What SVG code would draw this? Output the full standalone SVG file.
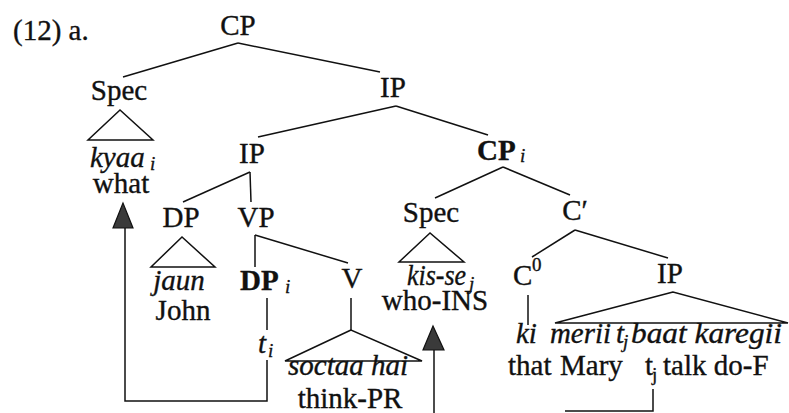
<svg xmlns="http://www.w3.org/2000/svg" width="789" height="413" viewBox="0 0 789 413" font-family="'Liberation Serif', 'Times New Roman', serif">
  <style>
    text { font-family: 'Liberation Serif', 'Times New Roman', serif; font-size: 29px; fill: #111; stroke: #111; stroke-width: 0.35; }
    .it { font-style: italic; }
    .b { font-weight: bold; }
    .sub { font-size: 19px; font-style: italic; }
    .sup { font-size: 19px; }
    .mid { text-anchor: middle; }
    .edge { stroke: #111; stroke-width: 1.5; fill: none; }
    .tri { stroke: #111; stroke-width: 1.5; fill: none; stroke-linejoin: miter; }
    .head { fill: #3a3a3a; stroke: #111; stroke-width: 1.2; }
  </style>
  <rect width="789" height="413" fill="#ffffff"/>

  <text id="example-label" x="13" y="40">(12) a.</text>

  <!-- tree branches, triangles and movement paths -->
  <g id="connectors">
    <line class="edge" x1="238" y1="43" x2="123" y2="77"/>
    <line class="edge" x1="238" y1="43" x2="380" y2="72"/>
    <line class="edge" x1="396" y1="106" x2="258" y2="137"/>
    <line class="edge" x1="396" y1="106" x2="488" y2="135"/>
    <polygon class="tri" points="120,110 88,140 153,140"/>
    <line class="edge" x1="250" y1="172" x2="183" y2="202"/>
    <line class="edge" x1="250" y1="172" x2="251" y2="202"/>
    <polygon class="tri" points="182,237 151,267 215,267"/>
    <line class="edge" x1="255" y1="235" x2="255" y2="267"/>
    <line class="edge" x1="255" y1="235" x2="348" y2="263"/>
    <line class="edge" x1="267" y1="298" x2="267" y2="330"/>
    <path class="edge" d="M267,360 V401 H125 V228"/>
    <polygon class="head" points="123,203 113,228 133,228"/>
    <line class="edge" x1="351" y1="298" x2="351" y2="330"/>
    <polygon class="tri" points="351,330 285,361 422,361"/>
    <line class="edge" x1="503" y1="167" x2="435" y2="198"/>
    <line class="edge" x1="503" y1="167" x2="570" y2="195"/>
    <polygon class="tri" points="430,233 399,262 464,262"/>
    <line class="edge" x1="434" y1="350" x2="434" y2="413"/>
    <polygon class="head" points="433,326 423,350 444,350"/>
    <line class="edge" x1="575" y1="230" x2="532" y2="257"/>
    <line class="edge" x1="575" y1="230" x2="668" y2="258"/>
    <line class="edge" x1="528" y1="295" x2="528" y2="325"/>
    <polygon class="tri" points="673,292 555,323 788,323"/>
    <path class="edge" d="M653,389 V411 H565"/>
  </g>

  <g id="cp-root"><text class="mid" x="238" y="35">CP</text></g>
  <g id="spec-matrix"><text class="mid" x="119" y="100">Spec</text></g>
  <g id="ip-top"><text class="mid" x="393" y="97">IP</text></g>
  <g id="kyaa">
    <text class="it" x="90" y="167">kyaa</text>
    <text class="sub" x="150" y="170">i</text>
    <text class="mid" x="121" y="193">what</text>
  </g>
  <g id="ip-inner"><text class="mid" x="252" y="163">IP</text></g>
  <g id="dp-subject"><text class="mid" x="181" y="227">DP</text></g>
  <g id="vp"><text class="mid" x="256" y="227">VP</text></g>
  <g id="jaun">
    <text class="it mid" x="179" y="290">jaun</text>
    <text class="mid" x="183" y="320">John</text>
  </g>
  <g id="dp-object">
    <text class="b" x="240" y="290">DP</text>
    <text class="sub" x="285" y="293">i</text>
  </g>
  <g id="trace-i">
    <text class="it" x="258" y="353">t</text>
    <text class="sub" x="268" y="357">i</text>
  </g>
  <g id="v"><text class="mid" x="352" y="288">V</text></g>
  <g id="soctaa">
    <text class="it mid" x="348" y="375">soctaa hai</text>
    <text class="mid" x="350" y="408">think-PR</text>
  </g>
  <g id="cp-embedded">
    <text class="b" x="477" y="160">CP</text>
    <text class="sub" x="520" y="162">i</text>
  </g>
  <g id="spec-embedded"><text class="mid" x="431" y="222">Spec</text></g>
  <g id="c-bar"><text class="mid" x="575" y="220">C′</text></g>
  <g id="kis-se">
    <text class="it" x="407" y="285" textLength="59" lengthAdjust="spacingAndGlyphs">kis-se</text>
    <text class="sub" x="469" y="290">j</text>
    <text class="mid" x="435" y="310">who-INS</text>
  </g>
  <g id="c-zero">
    <text x="513" y="285">C</text>
    <text class="sup" x="532" y="271">0</text>
  </g>
  <g id="ip-embedded"><text class="mid" x="670" y="283">IP</text></g>
  <g id="ki">
    <text class="it" x="516" y="343">ki</text>
    <text x="508" y="375">that</text>
  </g>
  <g id="ip-content">
    <text class="it" x="550" y="343" textLength="61" lengthAdjust="spacingAndGlyphs">merii</text>
    <text class="it" x="616" y="343">t</text>
    <text class="sub" x="623" y="348">j</text>
    <text class="it" x="631" y="343" textLength="151" lengthAdjust="spacingAndGlyphs">baat karegii</text>
    <text x="560" y="375">Mary</text>
    <text x="645" y="375">t</text>
    <text class="sup" x="652" y="381">j</text>
    <text x="663" y="375">talk do-F</text>
  </g>
</svg>
